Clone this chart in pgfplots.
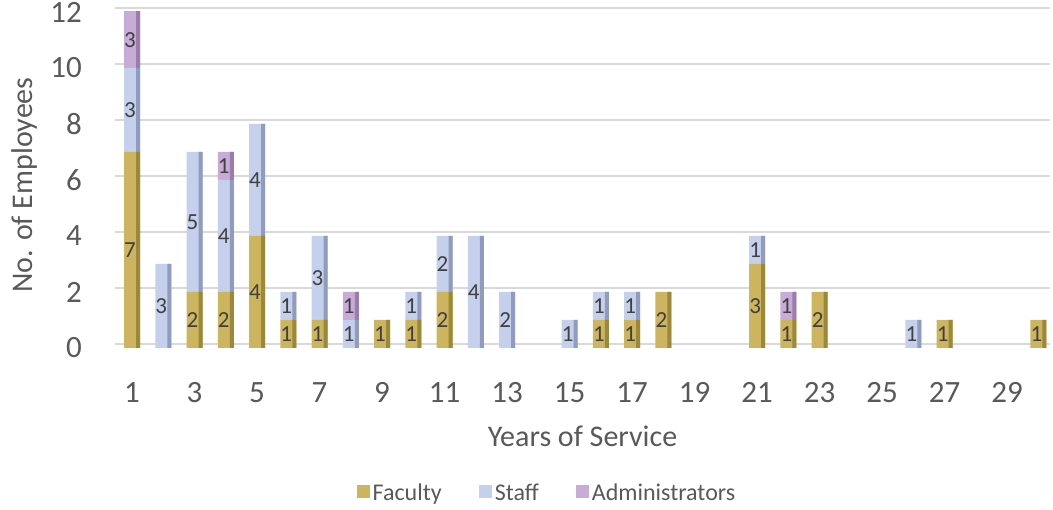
\documentclass[border=0pt]{standalone}
\usepackage{pgfplots}
\pgfplotsset{compat=1.18}
\usepackage{pgfplotstable}
\usepackage{fontspec}
\setmainfont{Carlito}
\definecolor{facC}{HTML}{CDB55F}
\definecolor{facD}{HTML}{9C8838}
\definecolor{stfC}{HTML}{C5D1EC}
\definecolor{stfD}{HTML}{8E9CC0}
\definecolor{admC}{HTML}{C9ABD7}
\definecolor{admD}{HTML}{9A7DAC}
\definecolor{gridC}{HTML}{D9D9D9}
\definecolor{txtC}{HTML}{595959}
\definecolor{lblC}{HTML}{404040}

\pgfplotstableread{
x F S A
1 7 3 3
2 0 3 0
3 2 5 0
4 2 4 1
5 4 4 0
6 1 1 0
7 1 3 0
8 0 1 1
9 1 0 0
10 1 1 0
11 2 2 0
12 0 4 0
13 0 2 0
14 0 0 0
15 0 1 0
16 1 1 0
17 1 1 0
18 2 0 0
19 0 0 0
20 0 0 0
21 3 1 0
22 1 0 1
23 2 0 0
24 0 0 0
25 0 0 0
26 0 1 0
27 1 0 0
28 0 0 0
29 0 0 0
30 1 0 0
}\datatable

\pgfplotstableread{
x y t
1 3.5 7
1 8.5 3
1 11 3
2 1.5 3
3 1 2
3 4.5 5
4 1 2
4 4 4
4 6.5 1
5 2 4
5 6 4
6 0.5 1
6 1.5 1
7 0.5 1
7 2.5 3
8 0.5 1
8 1.5 1
9 0.5 1
10 0.5 1
10 1.5 1
11 1 2
11 3 2
12 2 4
13 1 2
15 0.5 1
16 0.5 1
16 1.5 1
17 0.5 1
17 1.5 1
18 1 2
21 1.5 3
21 3.5 1
22 0.5 1
22 1.5 1
23 1 2
26 0.5 1
27 0.5 1
30 0.5 1
}\labeltable

\pgfplotsset{
  common/.style={
    at={(115pt,162pt)}, anchor=south west,
    scale only axis, width=935pt, height=336pt,
    xmin=0.456, xmax=30.37, ymin=0, ymax=12,
  },
}

\begin{document}
\begin{tikzpicture}
\useasboundingbox (0,0) rectangle (1053pt,510pt);
\begin{axis}[
  common,
  ybar stacked, bar width=16pt,
  xtick={1,3,...,29}, ytick={0,2,...,12},
  ymajorgrids,
  major grid style={draw=gridC, line width=1.5pt, yshift=4pt},
  axis line style={draw=none},
  major tick length=0pt,
  /pgf/number format/assume math mode=true,
  ticklabel style={font=\fontsize{31}{31}\selectfont, text=txtC},
  xticklabel style={anchor=north, inner sep=0pt},
  xticklabel shift=34pt,
  yticklabel style={anchor=east, inner sep=0pt},
  yticklabel shift=33pt,
  xlabel={Years of Service},
  ylabel={No. of Employees},
  every axis x label/.style={at={(axis description cs:0.5,0)}, anchor=base, yshift=-99pt, font=\fontsize{30}{30}\selectfont, text=txtC},
  every axis y label/.style={at={(axis description cs:0,0.5)}, xshift=-90pt, yshift=-5pt, rotate=90, anchor=center, font=\fontsize{30}{30}\selectfont, text=txtC},
  legend columns=-1,
  legend style={at={(axis description cs:0.5,0)}, anchor=center, xshift=-35pt, yshift=-145pt,
    draw=none, fill=none, font=\fontsize{24}{24}\selectfont, text=txtC,
    nodes={inner xsep=3pt, inner ysep=1pt},
    /tikz/every even column/.append style={column sep=34pt}},
]
\addplot[fill=facC, draw=none, legend image code/.code={\fill[facC] (0pt,-5pt) rectangle (13pt,8pt);}] table[x=x, y=F] {\datatable};
\addplot[fill=stfC, draw=none, legend image code/.code={\fill[stfC] (0pt,-5pt) rectangle (13pt,8pt);}] table[x=x, y=S] {\datatable};
\addplot[fill=admC, draw=none, legend image code/.code={\fill[admC] (0pt,-5pt) rectangle (13pt,8pt);}] table[x=x, y=A] {\datatable};
\legend{Faculty, Staff, Administrators}
\end{axis}
\begin{axis}[common, hide axis, ybar stacked, bar width=4pt]
\addplot[fill=facD, draw=none, bar shift=6pt] table[x=x, y=F] {\datatable};
\addplot[fill=stfD, draw=none, bar shift=6pt] table[x=x, y=S] {\datatable};
\addplot[fill=admD, draw=none, bar shift=6pt] table[x=x, y=A] {\datatable};
\end{axis}
\begin{axis}[common, hide axis]
\addplot[only marks, mark=none, nodes near coords, point meta=explicit symbolic,
  every node near coord/.append style={anchor=center, xshift=-2pt, font=\fontsize{23}{23}\selectfont, text=lblC}]
  table[x=x, y=y, meta=t] {\labeltable};
\end{axis}
\end{tikzpicture}
\end{document}
